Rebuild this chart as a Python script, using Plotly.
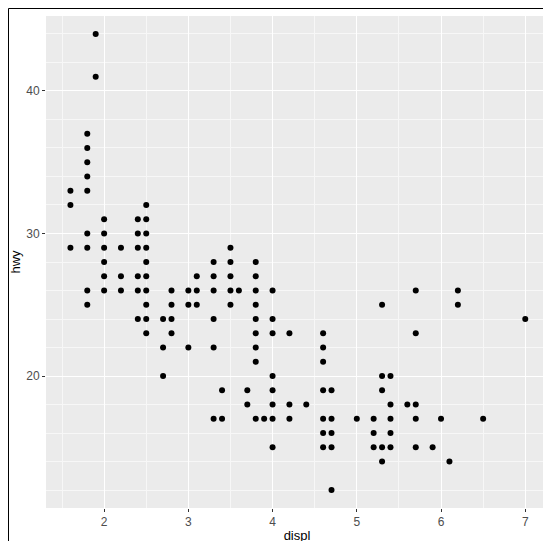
import plotly.graph_objects as go

# unique (displ, hwy) pairs
displ_groups = [1.6, 1.8, 1.9, 2.0, 2.2, 2.4, 2.5, 2.7, 2.8, 3.0, 3.1, 3.3, 3.4, 3.5, 3.6, 3.7,
                3.8, 3.9, 4.0, 4.2, 4.4, 4.6, 4.7, 5.0, 5.2, 5.3, 5.4, 5.6, 5.7, 5.9, 6.0, 6.1,
                6.2, 6.5, 7.0]
hwy_groups = [
    [29, 32, 33], [25, 26, 29, 30, 33, 34, 35, 36, 37], [41, 44], [26, 27, 28, 29, 30, 31],
    [26, 27, 29], [24, 26, 27, 29, 30, 31], [23, 24, 25, 26, 27, 28, 29, 30, 31, 32],
    [20, 22, 24], [23, 24, 25, 26], [22, 25, 26], [25, 26, 27], [17, 22, 24, 26, 27, 28],
    [17, 19], [25, 26, 27, 28, 29], [26], [18, 19], [17, 21, 22, 23, 24, 25, 26, 27, 28],
    [17], [15, 17, 18, 19, 20, 23, 24, 26], [17, 18, 23], [18], [15, 16, 17, 19, 21, 22, 23],
    [12, 15, 16, 17, 19], [17], [15, 16, 17], [14, 15, 19, 20, 25], [15, 16, 17, 18, 20],
    [18], [15, 17, 18, 23, 26], [15], [17], [14], [25, 26], [17], [24],
]

x = [d for d, hs in zip(displ_groups, hwy_groups) for _ in hs]
y = [h for hs in hwy_groups for h in hs]

fig = go.Figure(go.Scatter(x=x, y=y, mode="markers",
                           marker=dict(color="black", size=6), hoverinfo="x+y"))

axis = dict(showgrid=True, gridcolor="white", gridwidth=1.3, zeroline=False,
            automargin=False, ticks="outside", ticklen=3, tickcolor="#333333",
            tickfont=dict(family="Liberation Sans", size=12, color="#4D4D4D"),
            minor=dict(showgrid=True, gridcolor="#F7F7F7", gridwidth=0.6))
fig.update_xaxes(axis, range=[1.31, 7.27], tickvals=[2, 3, 4, 5, 6, 7],
                 title=dict(text="displ", font=dict(size=13, family="Liberation Sans",
                                                     color="black"), standoff=2))
fig.update_yaxes(axis, range=[10.74, 45.26], tickvals=[20, 30, 40],
                 title=dict(text="hwy", font=dict(size=13, family="Liberation Sans",
                                                   color="black"), standoff=2))

fig.add_shape(type="rect", xref="paper", yref="paper",
              x0=-37.5 / 502, x1=1 + 10.5 / 502, y0=-40.5 / 492, y1=1 + 7.5 / 492,
              line=dict(color="black", width=1))

fig.update_layout(width=551, height=541, margin=dict(l=38, r=11, t=8, b=41),
                  plot_bgcolor="#EBEBEB", paper_bgcolor="white", showlegend=False)

fig.write_html("out.html")
